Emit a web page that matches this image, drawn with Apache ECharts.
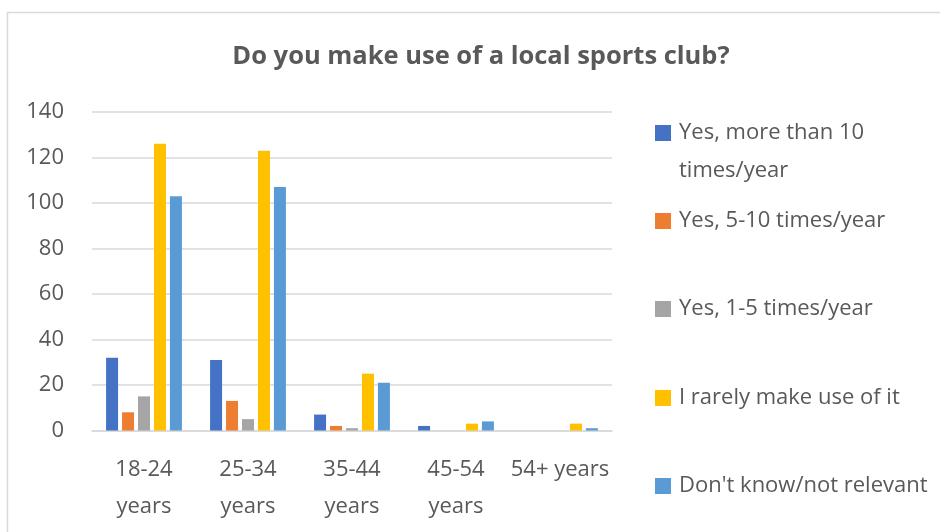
<!DOCTYPE html>
<html>
<head>
<meta charset="utf-8">
<script src="https://cdn.jsdelivr.net/npm/echarts@6/dist/echarts.min.js"></script>
<style>
  html, body { margin: 0; padding: 0; background: #fff; }
  #chart { width: 940px; height: 532px; }
</style>
</head>
<body>
<div id="chart"></div>
<script>
// Age groups on the category axis
const categories = ['18-24\nyears', '25-34\nyears', '35-44\nyears', '45-54\nyears', '54+ years'];

// Responses per age group
const seriesNames = [
  'Yes, more than 10 times/year',
  'Yes, 5-10 times/year',
  'Yes, 1-5 times/year',
  'I rarely make use of it',
  "Don't know/not relevant"
];
const moreThan10 = [32, 31, 7, 2, 0];
const fiveTo10 = [8, 13, 2, 0, 0];
const oneTo5 = [15, 5, 1, 0, 0];
const rarely = [126, 123, 25, 3, 3];
const dontKnow = [103, 107, 21, 4, 1];

const yTicks = [0, 20, 40, 60, 80, 100, 120, 140];

const colors = ['#4472C4', '#ED7D31', '#A5A5A5', '#FFC000', '#5B9BD5'];
const values = [moreThan10, fiveTo10, oneTo5, rarely, dontKnow];

const FONT = '"Open Sans", "Noto Sans", sans-serif';
const TEXT = '#595959';

// One legend block per series so each entry sits at its own height
const legendCenters = [133, 221, 309, 398, 486];
const legendLabels = ['Yes, more than 10', seriesNames[1], seriesNames[2], seriesNames[3], seriesNames[4]];
const legends = seriesNames.map((name, i) => ({
  data: [name],
  left: 650,
  top: legendCenters[i] - 18,
  orient: 'vertical',
  itemWidth: 16,
  itemHeight: 16,
  itemGap: 0,
  icon: 'rect',
  selectedMode: false,
  formatter: () => legendLabels[i],
  textStyle: { fontFamily: FONT, fontSize: 22, color: TEXT, lineHeight: 26, padding: [0, 0, 0, 3] }
}));

const chart = echarts.init(document.getElementById('chart'), null, { renderer: 'canvas' });
chart.setOption({
  animation: false,
  color: colors,
  title: {
    text: 'Do you make use of a local sports club?',
    left: 476,
    textAlign: 'center',
    top: 39,
    textStyle: { fontFamily: FONT, fontSize: 25.5, fontWeight: 'bold', color: TEXT }
  },
  legend: legends,
  graphic: [
    {
      type: 'rect',
      shape: { x: 7.5, y: 12.5, width: 940, height: 530 },
      style: { fill: 'none', stroke: '#d9d9d9', lineWidth: 1.5 },
      silent: true
    },
    {
      type: 'text',
      left: 679,
      top: 160,
      style: { text: 'times/year', fontFamily: FONT, fontSize: 22, fill: TEXT }
    }
  ],
  grid: { left: 92, right: 328, top: 112, bottom: 101.5 },
  xAxis: {
    type: 'category',
    data: categories,
    axisLine: { lineStyle: { color: '#d9d9d9', width: 1.5 } },
    axisTick: { show: false },
    axisLabel: {
      fontFamily: FONT, fontSize: 22, color: TEXT, lineHeight: 37, margin: 21, interval: 0
    }
  },
  yAxis: {
    type: 'value',
    min: yTicks[0],
    max: yTicks[yTicks.length - 1],
    interval: 20,
    axisLine: { show: false },
    axisTick: { show: false },
    splitLine: { lineStyle: { color: '#d9d9d9', width: 1.5 } },
    axisLabel: { fontFamily: FONT, fontSize: 22, color: TEXT, margin: 28 }
  },
  series: seriesNames.map((name, i) => ({
    name,
    type: 'bar',
    data: values[i],
    barWidth: 12,
    barGap: '33%',
    itemStyle: { color: colors[i] }
  }))
});
</script>
</body>
</html>
